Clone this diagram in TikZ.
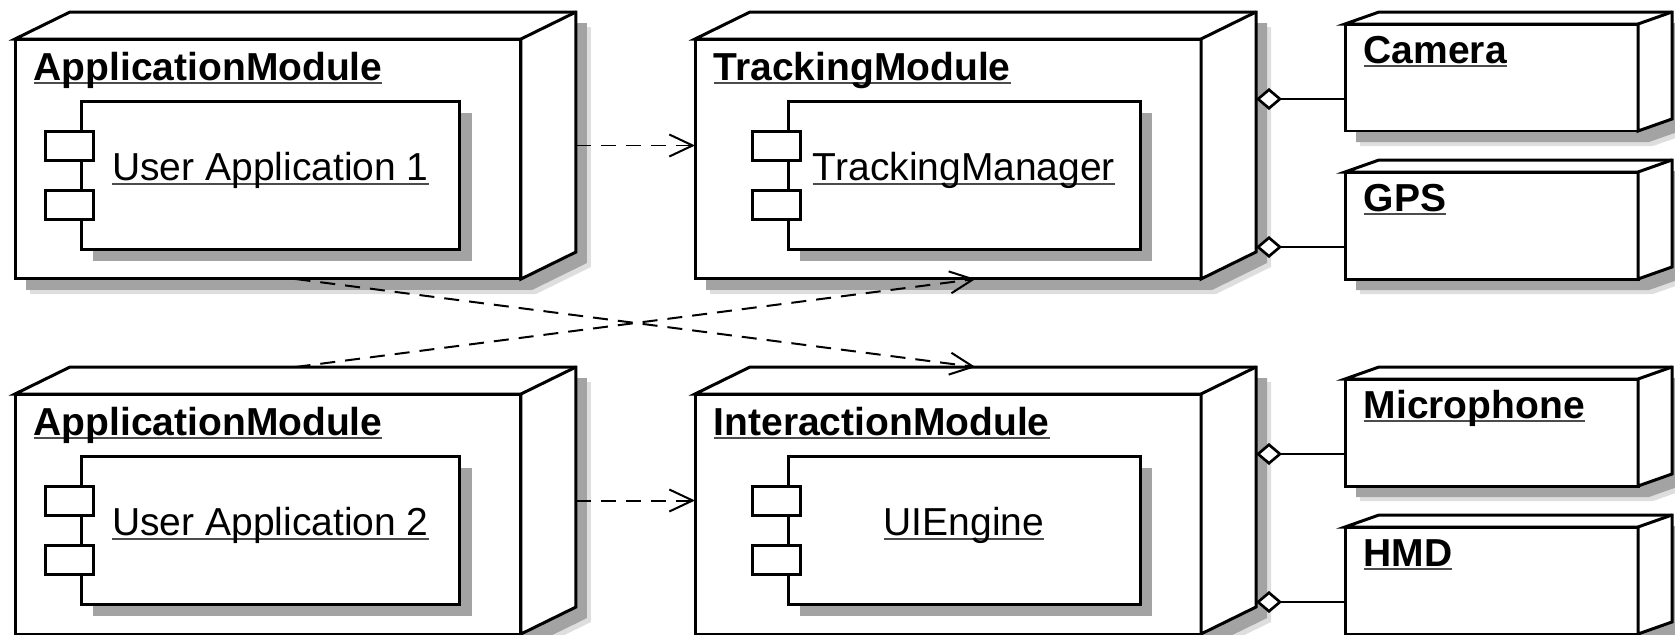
\documentclass[tikz,border=0pt]{standalone}
\usepackage{fontspec}
\setmainfont{Liberation Sans}
\usetikzlibrary{arrows.meta,backgrounds,shadows}
\definecolor{shadegray}{rgb}{0.64,0.64,0.64}
\definecolor{shadelight}{rgb}{0.87,0.87,0.87}
\definecolor{linegray}{rgb}{0.3,0.3,0.3}

\newcommand{\umlname}[1]{\setbox0\hbox{#1}\rlap{\textcolor{linegray}{\rule[-0.1em]{\wd0}{0.055em}}}\box0}

% top and side faces of a 3d node box, with its shadow
\newcommand{\nodebox}[3]{%
  \begin{pgfonlayer}{background}
    \fill[shadelight] ([shift={(15,15)}]#1.north west) -- ++(#2,-#3) -- ([shift={(15+#2,15-#3)}]#1.north east) -- ([shift={(15+#2,15-#3)}]#1.south east) -- ([shift={(15,15)}]#1.south east) -- ([shift={(15,15)}]#1.south west) -- cycle;
    \fill[shadegray] ([shift={(11,11)}]#1.north west) -- ++(#2,-#3) -- ([shift={(11+#2,11-#3)}]#1.north east) -- ([shift={(11+#2,11-#3)}]#1.south east) -- ([shift={(11,11)}]#1.south east) -- ([shift={(11,11)}]#1.south west) -- cycle;
  \end{pgfonlayer}
  \draw[boxline,fill=white] (#1.north west) -- ++(#2,-#3) -- ([shift={(#2,-#3)}]#1.north east) -- ([shift={(#2,-#3)}]#1.south east) -- (#1.south east) -- (#1.north east) -- cycle;
  \draw[boxline] (#1.north east) -- ++(#2,-#3);
}

\begin{document}
\begin{tikzpicture}[x=0.3pt,y=-0.3pt,font=\fontsize{11.7}{14}\selectfont,
		boxline/.style={line width=0.9pt},
		modulenode/.style={draw,fill=white,line width=0.9pt,inner sep=0pt,outer sep=0pt,minimum width=151.8pt,minimum height=72pt,anchor=north west},
		devicenode/.style={modulenode,minimum width=87.9pt,minimum height=32.1pt},
		compnode/.style={draw,fill=white,line width=0.9pt,inner sep=0pt,outer sep=0pt,minimum height=44.4pt,text height=0.75em,text depth=0.4em,anchor=north west,drop shadow={shadow xshift=3.6pt,shadow yshift=-3.6pt,fill=shadegray,opacity=1}},
		portbox/.style={draw,fill=white,line width=0.9pt},
		titlenode/.style={anchor=base west,inner sep=0pt,font=\fontsize{11.7}{14}\selectfont\bfseries},
		dep/.style={line width=0.6pt,dash pattern=on 4.5pt off 3pt,-{Straight Barb[length=7pt,width=6.6pt]}},
		aggr/.style={line width=0.8pt,{Diamond[fill=white,length=7.8pt,width=6.6pt]}-}]
		\useasboundingbox (0,0) rectangle (1675,635);

		\node[modulenode] (app1) at (15,39) {};
		\node[modulenode] (track) at (695,39) {};
		\node[modulenode] (app2) at (15,394) {};
		\node[modulenode] (inter) at (695,394) {};
		\node[devicenode] (camera) at (1345,24) {};
		\node[devicenode] (gps) at (1345,172) {};
		\node[devicenode] (mic) at (1345,379) {};
		\node[devicenode] (hmd) at (1345,527) {};
		\foreach \n in {app1,track,app2,inter} {\nodebox{\n}{55}{27}}
		\foreach \n in {camera,gps,mic,hmd} {\nodebox{\n}{34}{12}}

		\node[titlenode] (app1-title) at ([shift={(18,41)}]app1.north west) {\umlname{ApplicationModule}};
		\node[titlenode] (track-title) at ([shift={(18,41)}]track.north west) {\umlname{TrackingModule}};
		\node[titlenode] (app2-title) at ([shift={(18,41)}]app2.north west) {\umlname{ApplicationModule}};
		\node[titlenode] (inter-title) at ([shift={(18,41)}]inter.north west) {\umlname{InteractionModule}};
		\node[titlenode] (camera-title) at ([shift={(18,39)}]camera.north west) {\umlname{Camera}};
		\node[titlenode] (gps-title) at ([shift={(18,39)}]gps.north west) {\umlname{GPS}};
		\node[titlenode] (mic-title) at ([shift={(18,39)}]mic.north west) {\umlname{Microphone}};
		\node[titlenode] (hmd-title) at ([shift={(18,39)}]hmd.north west) {\umlname{HMD}};

		\node[compnode,minimum width=113.7pt] (ua1) at ([shift={(66,62)}]app1.north west) {\umlname{User Application 1}};
		\node[compnode,minimum width=105.6pt] (tman) at ([shift={(93,62)}]track.north west) {\umlname{TrackingManager}};
		\node[compnode,minimum width=113.7pt] (ua2) at ([shift={(66,62)}]app2.north west) {\umlname{User Application 2}};
		\node[compnode,minimum width=105.6pt] (uieng) at ([shift={(93,62)}]inter.north west) {\umlname{UIEngine}};
		\foreach \n in {ua1,tman,ua2,uieng}
			\foreach \py in {30,89}
				\draw[portbox] ([shift={(-36,\py)}]\n.north west) rectangle ++(48,29);

		\coordinate (app1-r) at ([shift={(55,-13.5)}]app1.east);
		\coordinate (app2-r) at ([shift={(55,-13.5)}]app2.east);
		\coordinate (app1-b) at ([shift={(27.5,0)}]app1.south);
		\coordinate (app2-t) at ([shift={(27.5,-27)}]app2.north);
		\coordinate (track-b) at ([shift={(27.5,0)}]track.south);
		\coordinate (inter-t) at ([shift={(27.5,-27)}]inter.north);
		\draw[dep] (app1-r) -- (track.west |- app1-r);
		\draw[dep] (app2-r) -- (inter.west |- app2-r);
		\draw[dep] (app1-b) -- (inter-t);
		\draw[dep] (app2-t) -- (track-b);

		\coordinate (track-r) at ([shift={(55,0)}]track.east);
		\coordinate (inter-r) at ([shift={(55,0)}]inter.east);
		\foreach \dev/\mod in {camera/track-r,gps/track-r,mic/inter-r,hmd/inter-r} {
			\coordinate (\dev-l) at ([shift={(0,-32)}]\dev.south west);
			\draw[aggr] (\mod |- \dev-l) -- (\dev-l);
		}
\end{tikzpicture}
\end{document}
